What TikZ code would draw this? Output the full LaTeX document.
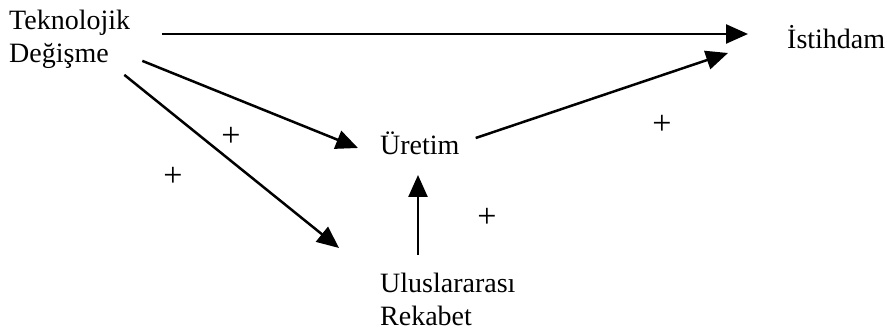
\documentclass[tikz,border=0pt]{standalone}
\usepackage{fontspec}
\setmainfont{Liberation Serif}
\usetikzlibrary{arrows.meta,calc}

\tikzset{
  lbl/.style={inner sep=0pt,align=left,font=\fontsize{28}{33}\selectfont},
  plus/.style={inner sep=0pt,font=\fontsize{34}{40}\selectfont},
  arr/.style={line width=2.5pt,-{Triangle[length=22pt,width=19pt]}}
}

\begin{document}
\begin{tikzpicture}[x=1pt,y=-1pt]
\useasboundingbox (0,0) rectangle (887,331);
\node[lbl,anchor=north west] (tek) at (9,10) {Teknolojik\\Değişme};
\node[lbl,anchor=base west] (ist) at (787,49) {İstihdam};
\node[lbl,anchor=base west] (ure) at (380,155) {Üretim};
\node[lbl,anchor=north west] (ulu) at (380,273) {Uluslararası\\Rekabet};
\draw[arr] ($(tek.north east)+(32,24)$) -- ($(ist.base west)+(-39,-15)$);
\draw[arr] ($(tek.south east)+(12,-8)$) -- ($(ure.base west)+(-22,-7)$);
\draw[arr] ($(tek.south east)+(-6,6)$) -- ($(ulu.north west)+(-41,-25)$);
\draw[arr] ($(ure.base east)+(16,-17)$) -- ($(ist.base west)+(-59,4)$);
\draw[arr] ($(ulu.north west)+(38,-18)$) -- ($(ure.base west)+(38,20)$);
\node[plus] (p1) at (231,137) {+};
\node[plus] (p2) at (173,177) {+};
\node[plus] (p3) at (487,218) {+};
\node[plus] (p4) at (662,125) {+};
\end{tikzpicture}
\end{document}
